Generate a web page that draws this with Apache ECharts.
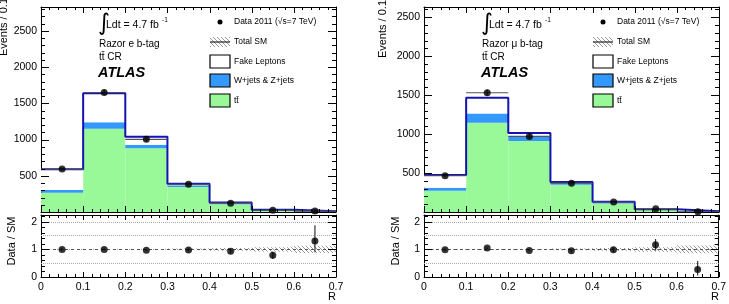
<!DOCTYPE html>
<html>
<head>
<meta charset="utf-8">
<script src="https://cdn.jsdelivr.net/npm/echarts/dist/echarts.min.js"></script>
<style>
  html, body { margin: 0; padding: 0; background: #fff; }
  #chart { width: 729px; height: 304px; }
</style>
</head>
<body>
<div id="chart"></div>
<script>
// bin edges and centres in R
const binEdges = [0, 0.1, 0.2, 0.3, 0.4, 0.5, 0.6, 0.7];
const binCentres = [0.05, 0.15, 0.25, 0.35, 0.45, 0.55, 0.65];

// electron channel (left)
const ttbarE = [265, 1150, 880, 345, 108, 22, 7];
const wzE = [38, 90, 50, 25, 12, 5, 2];
const fakeE = [287, 400, 110, 20, 10, 3, 1];
const dataE = [592, 1650, 1003, 382, 122, 24, 13];
const dataErrE = [24, 40, 32, 20, 11, 5, 4];
const ratioE = [1.0, 1.0, 0.97, 0.98, 0.93, 0.79, 1.31];
const ratioErrLoE = [0.04, 0.03, 0.03, 0.05, 0.08, 0.14, 0.41];
const ratioErrHiE = [0.04, 0.03, 0.03, 0.05, 0.08, 0.13, 0.57];
const smUncE = [0.02, 0.02, 0.02, 0.03, 0.05, 0.08, 0.13];

// muon channel (right)
const ttbarM = [272, 1145, 910, 350, 108, 26, 8];
const wzM = [38, 120, 65, 25, 14, 6, 2];
const fakeM = [164, 200, 38, 10, 8, 3, 1];
const dataM = [465, 1530, 970, 370, 128, 41, 3];
const dataErrM = [22, 39, 31, 19, 11, 6, 2];
const ratioM = [0.99, 1.05, 0.96, 0.95, 0.99, 1.17, 0.27];
const ratioErrLoM = [0.04, 0.03, 0.03, 0.05, 0.09, 0.21, 0.22];
const ratioErrHiM = [0.04, 0.03, 0.03, 0.05, 0.09, 0.21, 0.31];
const smUncM = [0.02, 0.02, 0.02, 0.03, 0.05, 0.08, 0.14];

const yTicksMain = [500, 1000, 1500, 2000, 2500];
const yTicksRatio = [0, 1, 2];

const FONT = 'Liberation Sans';
const GREEN = '#99f999';
const BLUE = '#3399ff';
const NAVY = '#1414b4';

// grey diagonal hatching for the Total SM uncertainty
function makeHatch() {
  const c = document.createElement('canvas');
  c.width = 4; c.height = 4;
  const ctx = c.getContext('2d');
  ctx.strokeStyle = '#999';
  ctx.lineWidth = 1;
  ctx.beginPath();
  [-4, 0, 4].forEach(k => { ctx.moveTo(k, 0); ctx.lineTo(k + 4, 4); });
  ctx.stroke();
  return { image: c, repeat: 'repeat' };
}
const hatch = makeHatch();

const grids = [
  { left: 41, top: 7, width: 295, height: 205 },
  { left: 41, top: 215, width: 295, height: 62 },
  { left: 424, top: 7, width: 295, height: 205 },
  { left: 424, top: 215, width: 295, height: 62 }
];
const yMaxes = [2830, 2.25, 2630, 2.25];

function baseAxis(extra) {
  return Object.assign({
    type: 'value',
    axisLine: { show: true, onZero: false, lineStyle: { color: '#000', width: 1 } },
    axisTick: { show: false },
    minorTick: { show: false },
    splitLine: { show: false },
    axisLabel: { show: false }
  }, extra);
}

// every grid gets a frame: bottom/top x axes and left/right y axes
const xAxes = [];
const yAxes = [];
grids.forEach((g, gi) => {
  const ratio = gi % 2 === 1;
  const ymax = yMaxes[gi];
  xAxes.push(baseAxis({
    gridIndex: gi, position: 'bottom', min: 0, max: 0.7, interval: 0.1,
    axisLabel: {
      show: ratio, margin: 5, fontFamily: FONT, fontSize: 10.5, color: '#000',
      formatter: v => (+v).toFixed(v === 0 ? 0 : 1)
    }
  }));
  xAxes.push(baseAxis({ gridIndex: gi, position: 'top', min: 0, max: 0.7, interval: 0.1 }));
  const ticks = ratio ? yTicksRatio : yTicksMain;
  yAxes.push(baseAxis({
    gridIndex: gi, position: 'left', min: 0, max: ymax, interval: ratio ? 1 : 500,
    axisLabel: {
      show: true, margin: 4, fontFamily: FONT, fontSize: 10.5, color: '#000',
      formatter: v => ticks.includes(+v) ? String(v) : ''
    }
  }));
  yAxes.push(baseAxis({ gridIndex: gi, position: 'right', min: 0, max: ymax, interval: ratio ? 1 : 500 }));
});

// inward ticks on all four sides, placed through the grid's own scales
function frameTicks(gi) {
  const ratio = gi % 2 === 1;
  const ymax = yMaxes[gi];
  const items = [];
  for (let k = 0; k <= 35; k++) {
    items.push(['x', +(k * 0.02).toFixed(2), k % 5 === 0 ? (ratio ? 5 : 6) : 3]);
  }
  const yStep = ratio ? 0.2 : 100;
  for (let k = 0; k * yStep <= ymax + 1e-9; k++) {
    items.push(['y', +(k * yStep).toFixed(2), k % 5 === 0 ? 8 : 4]);
  }
  return {
    type: 'custom', xAxisIndex: 2 * gi, yAxisIndex: 2 * gi,
    silent: true, animation: false, clip: false, z: 6,
    dimensions: ['kind', 'value', 'len'],
    encode: { x: 1, y: 1 },
    data: items,
    renderItem: (params, api) => {
      const item = items[params.dataIndex];
      const v = item[1], len = item[2];
      if (item[0] === 'x') {
        const b = api.coord([v, 0]);
        const t = api.coord([v, ymax]);
        const x = Math.round(b[0]) + 0.5;
        return {
          type: 'group', children: [
            { type: 'line', shape: { x1: x, y1: b[1], x2: x, y2: b[1] - len }, style: { stroke: '#000', lineWidth: 1 } },
            { type: 'line', shape: { x1: x, y1: t[1], x2: x, y2: t[1] + len }, style: { stroke: '#000', lineWidth: 1 } }
          ]
        };
      }
      const l = api.coord([0, v]);
      const r = api.coord([0.7, v]);
      const y = Math.round(l[1]) + 0.5;
      return {
        type: 'group', children: [
          { type: 'line', shape: { x1: l[0], y1: y, x2: l[0] + len, y2: y }, style: { stroke: '#000', lineWidth: 1 } },
          { type: 'line', shape: { x1: r[0], y1: y, x2: r[0] - len, y2: y }, style: { stroke: '#000', lineWidth: 1 } }
        ]
      };
    }
  };
}

// one block of a stacked histogram: [x0, x1, low, high]
function stackSeries(gi, lows, highs, fill) {
  return {
    type: 'custom', xAxisIndex: 2 * gi, yAxisIndex: 2 * gi,
    silent: true, animation: false, clip: true, z: 1,
    data: lows.map((lo, i) => [binEdges[i], binEdges[i + 1], lo, highs[i]]),
    renderItem: (params, api) => {
      const p0 = api.coord([api.value(0), api.value(3)]);
      const p1 = api.coord([api.value(1), api.value(2)]);
      return {
        type: 'rect',
        shape: { x: p0[0], y: p0[1], width: p1[0] - p0[0], height: p1[1] - p0[1] },
        style: { fill: fill }
      };
    }
  };
}

function errorSeries(gi, ys, lo, hi, halfW) {
  return {
    type: 'custom', xAxisIndex: 2 * gi, yAxisIndex: 2 * gi,
    silent: true, animation: false, clip: true, z: 4,
    data: binCentres.map((x, i) => [x, ys[i], lo[i], hi[i]]),
    renderItem: (params, api) => {
      const x = api.value(0), y = api.value(1);
      const top = api.coord([x, y + api.value(3)]);
      const bot = api.coord([x, y - api.value(2)]);
      const children = [{
        type: 'line', shape: { x1: top[0], y1: top[1], x2: bot[0], y2: bot[1] },
        style: { stroke: '#333', lineWidth: 1.2 }
      }];
      if (halfW) {
        const l = api.coord([x - halfW, y]);
        const r = api.coord([x + halfW, y]);
        children.push({
          type: 'line', shape: { x1: l[0], y1: l[1], x2: r[0], y2: r[1] },
          style: { stroke: '#555', lineWidth: 1.2 }
        });
      }
      return { type: 'group', children };
    }
  };
}

function pointSeries(gi, ys) {
  return {
    type: 'scatter', xAxisIndex: 2 * gi, yAxisIndex: 2 * gi,
    silent: true, animation: false, z: 5,
    symbol: 'circle', symbolSize: 7,
    itemStyle: { color: '#000' },
    data: binCentres.map((x, i) => [x, ys[i]])
  };
}

function mainPanel(gi, ttbar, wz, fake, data, dataErr) {
  const zeros = ttbar.map(() => 0);
  const lvl1 = ttbar.map((v, i) => v + wz[i]);
  const total = lvl1.map((v, i) => v + fake[i]);
  const outline = binEdges.map((x, i) => [x, total[Math.min(i, total.length - 1)]]);
  return [
    stackSeries(gi, zeros, ttbar, GREEN),
    stackSeries(gi, ttbar, lvl1, BLUE),
    stackSeries(gi, lvl1, total, '#fff'),
    {
      type: 'line', xAxisIndex: 2 * gi, yAxisIndex: 2 * gi, step: 'end',
      silent: true, animation: false, symbol: 'none', z: 3,
      lineStyle: { color: NAVY, width: 2 },
      data: outline
    },
    errorSeries(gi, data, dataErr, dataErr, 0.05),
    pointSeries(gi, data),
    frameTicks(gi)
  ];
}

function ratioPanel(gi, ratio, lo, hi, smUnc) {
  return [
    stackSeries(gi, smUnc.map(u => 1 - u), smUnc.map(u => 1 + u), hatch),
    {
      type: 'line', xAxisIndex: 2 * gi, yAxisIndex: 2 * gi, data: [],
      silent: true, animation: false,
      markLine: {
        silent: true, symbol: 'none', label: { show: false }, animation: false,
        data: [
          { yAxis: 0.5, lineStyle: { color: '#aaa', type: 'dotted', width: 1 } },
          { yAxis: 1.5, lineStyle: { color: '#aaa', type: 'dotted', width: 1 } },
          { yAxis: 2, lineStyle: { color: '#aaa', type: 'dotted', width: 1 } },
          { yAxis: 1, lineStyle: { color: '#555', type: [3, 3], width: 1 } }
        ]
      }
    },
    errorSeries(gi, ratio, lo, hi, 0),
    pointSeries(gi, ratio),
    frameTicks(gi)
  ];
}

// text and legend drawn as graphics, dx shifts to the right panel
function panelGraphics(dx, channel) {
  const t = (x, y, text, size, extra) => ({
    type: 'text', x: x + dx, y: y,
    style: Object.assign({ text, fontFamily: FONT, fontSize: size, fill: '#000', verticalAlign: 'middle' }, extra || {})
  });
  const box = (y, fill) => ({
    type: 'rect', shape: { x: 210 + dx, y: y, width: 20, height: 13 },
    style: { fill: fill, stroke: '#000', lineWidth: 1.2 }
  });
  return [
    t(98, 24, '\u222B', 23, { fontFamily: 'DejaVu Sans' }),
    t(106, 25, 'Ldt = 4.7 fb', 10.5),
    t(162, 20.5, '-1', 6.5),
    t(99, 44, 'Razor ' + channel + ' b-tag', 10),
    t(99, 57.5, 'tt\u0304 CR', 10),
    t(98, 73, 'ATLAS', 14.5, { fontWeight: 'bold', fontStyle: 'italic' }),
    { type: 'circle', shape: { cx: 220 + dx, cy: 22, r: 2.5 }, style: { fill: '#000' } },
    t(234, 22, 'Data 2011 (\u221As=7 TeV)', 8.5),
    { type: 'rect', shape: { x: 210 + dx, y: 37, width: 20, height: 10 }, style: { fill: hatch } },
    { type: 'line', shape: { x1: 210 + dx, y1: 42, x2: 230 + dx, y2: 42 }, style: { stroke: '#222', lineWidth: 1.2 } },
    t(234, 42, 'Total SM', 8.5),
    box(55, '#fff'),
    t(234, 61.5, 'Fake Leptons', 8.5),
    box(74, BLUE),
    t(234, 81, 'W+jets & Z+jets', 8.5),
    box(94, GREEN),
    t(234, 100.5, 'tt\u0304', 8.5),
    t(332, 297, 'R', 11, { align: 'center' })
  ];
}

function axisTitles(x1, x2, yEnd) {
  return [
    {
      type: 'text', x: x1, y: yEnd, rotation: Math.PI / 2,
      style: { text: 'Events / 0.1', fontFamily: FONT, fontSize: 11, fill: '#000', align: 'right', verticalAlign: 'middle' }
    },
    {
      type: 'text', x: x2, y: 241, rotation: Math.PI / 2,
      style: { text: 'Data / SM', fontFamily: FONT, fontSize: 11, fill: '#000', align: 'center', verticalAlign: 'middle' }
    }
  ];
}

const chart = echarts.init(document.getElementById('chart'));
chart.setOption({
  animation: false,
  grid: grids,
  xAxis: xAxes,
  yAxis: yAxes,
  series: [].concat(
    mainPanel(0, ttbarE, wzE, fakeE, dataE, dataErrE),
    ratioPanel(1, ratioE, ratioErrLoE, ratioErrHiE, smUncE),
    mainPanel(2, ttbarM, wzM, fakeM, dataM, dataErrM),
    ratioPanel(3, ratioM, ratioErrLoM, ratioErrHiM, smUncM)
  ),
  graphic: [].concat(
    panelGraphics(0, 'e'),
    panelGraphics(383, '\u03BC'),
    axisTitles(4, 12, -2),
    axisTitles(383, 396, 0)
  )
});
</script>
</body>
</html>
